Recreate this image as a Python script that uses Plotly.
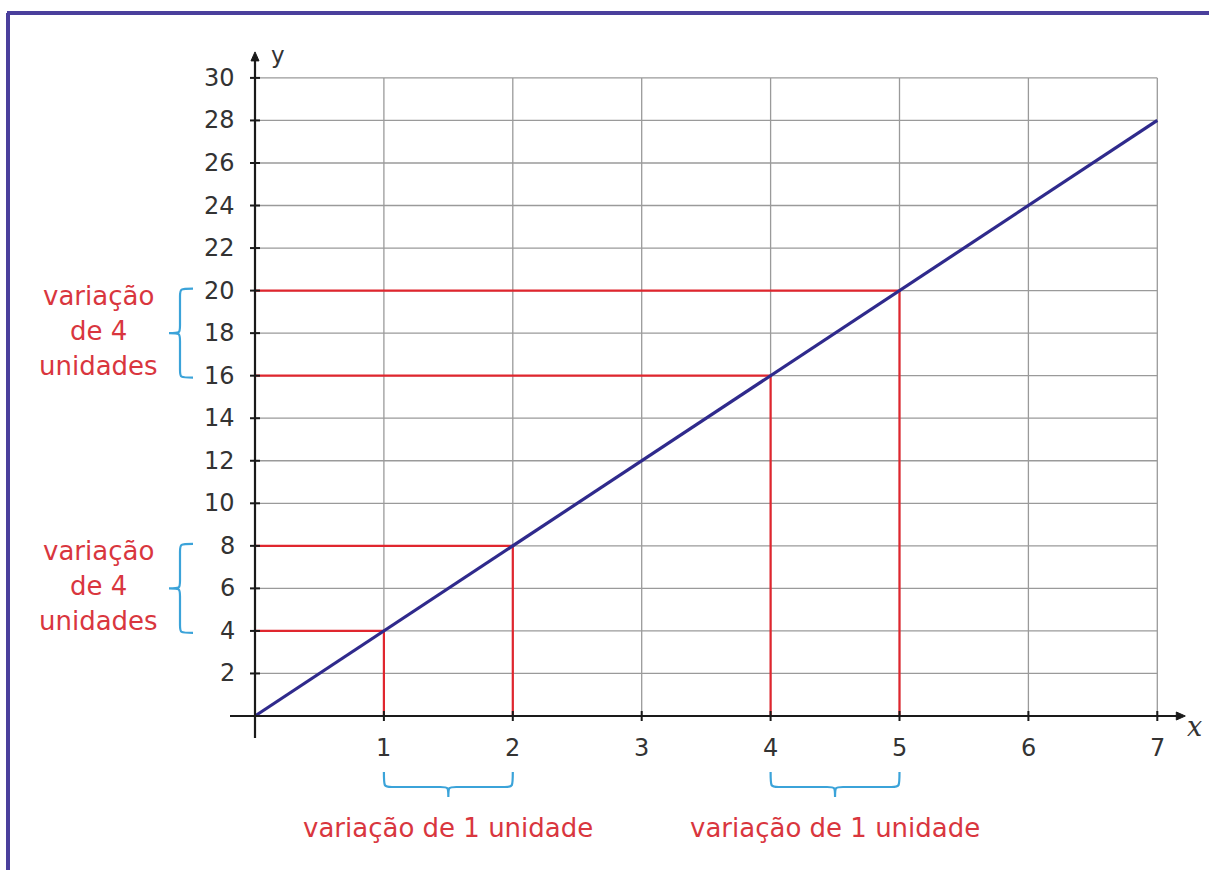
import plotly.graph_objects as go

# Function y = 4x sampled at integer x
x_vals = [0, 1, 2, 3, 4, 5, 6, 7]
y_vals = [0, 4, 8, 12, 16, 20, 24, 28]

# Points highlighted with red guide lines
guide_x = [1, 2, 4, 5]
guide_y = [4, 8, 16, 20]

x_ticks = [1, 2, 3, 4, 5, 6, 7]
y_ticks = [2, 4, 6, 8, 10, 12, 14, 16, 18, 20, 22, 24, 26, 28, 30]

# Brace groups: (start, end) in data units
y_braces = [(16, 20), (4, 8)]
x_braces = [(1, 2), (4, 5)]
y_brace_lines = ["variação", "de 4", "unidades"]
x_brace_text = "variação de 1 unidade"

W, H = 1209, 870
# pixel placement of the origin and scale
OX, OY = 255, 716
SX, SY = 128.9, 21.27
X0, X1 = -OX / SX, (W - OX) / SX
Y0, Y1 = -(H - OY) / SY, OY / SY


def dx(px):
    return px / SX


def dy(px):
    return px / SY


GRID = "#9a9a9a"
AXIS = "#1a1a1a"
RED = "#e0262e"
TXT_RED = "#d9363e"
NAVY = "#2f2a8c"
CYAN = "#3ba3d9"
FONT = "DejaVu Sans"

fig = go.Figure()
shapes = []
annotations = []

# grid
for xv in x_ticks:
    shapes.append(dict(type="line", x0=xv, x1=xv, y0=0, y1=max(y_ticks),
                       line=dict(color=GRID, width=1.3), layer="below"))
for yv in y_ticks:
    shapes.append(dict(type="line", x0=0, x1=max(x_ticks), y0=yv, y1=yv,
                       line=dict(color=GRID, width=1.3), layer="below"))

# red guide lines from each highlighted point to both axes
gx, gy = [], []
for xv, yv in zip(guide_x, guide_y):
    gx += [0, xv, xv, None]
    gy += [yv, yv, 0, None]
fig.add_trace(go.Scatter(x=gx, y=gy, mode="lines",
                         line=dict(color=RED, width=2.2), hoverinfo="skip"))

# axes
shapes.append(dict(type="line", x0=-dx(25), x1=max(x_ticks) + dx(22), y0=0, y1=0,
                   line=dict(color=AXIS, width=2.2)))
shapes.append(dict(type="line", x0=0, x1=0, y0=-dy(22), y1=max(y_ticks) + dy(20),
                   line=dict(color=AXIS, width=2.2)))
# arrow heads
xa = max(x_ticks) + dx(28)
shapes.append(dict(type="path",
                   path=f"M {xa},0 L {xa - dx(9)},{dy(4)} L {xa - dx(9)},{-dy(4)} Z",
                   fillcolor=AXIS, line=dict(color=AXIS, width=1)))
ya = max(y_ticks) + dy(26)
shapes.append(dict(type="path",
                   path=f"M 0,{ya} L {dx(4)},{ya - dy(9)} L {-dx(4)},{ya - dy(9)} Z",
                   fillcolor=AXIS, line=dict(color=AXIS, width=1)))
# tick marks
for xv in x_ticks:
    shapes.append(dict(type="line", x0=xv, x1=xv, y0=-dy(5), y1=dy(5),
                       line=dict(color=AXIS, width=2)))
for yv in y_ticks:
    shapes.append(dict(type="line", x0=-dx(5), x1=dx(5), y0=yv, y1=yv,
                       line=dict(color=AXIS, width=2)))

# the function line
fig.add_trace(go.Scatter(x=x_vals, y=y_vals, mode="lines",
                         line=dict(color=NAVY, width=3.2), hoverinfo="skip"))

# tick labels
for xv in x_ticks:
    annotations.append(dict(x=xv, y=-dy(32), text=str(xv), showarrow=False,
                            xanchor="center", yanchor="middle",
                            font=dict(family=FONT, size=24, color="#333333")))
for yv in y_ticks:
    annotations.append(dict(x=-dx(18), y=yv, text=str(yv), showarrow=False,
                            xanchor="right", yanchor="middle",
                            font=dict(family=FONT, size=24, color="#333333")))
annotations.append(dict(x=dx(23), y=max(y_ticks) + dy(23), text="y", showarrow=False,
                        xanchor="center", yanchor="middle",
                        font=dict(family=FONT, size=23, color="#333333")))
annotations.append(dict(x=max(x_ticks) + dx(37), y=-dy(10), text="<i>x</i>", showarrow=False,
                        xanchor="center", yanchor="middle",
                        font=dict(family="DejaVu Serif", size=27, color="#333333")))

# vertical braces (tip pointing left)
for ya_, yb_ in y_braces:
    yt = yb_ + dy(2)
    ybm = ya_ - dy(2)
    xe, xs, xt = -dx(62), -dx(75), -dx(86)
    ym = (yt + ybm) / 2
    d = dy(8)
    path = (f"M {xe},{yt} C {xs},{yt} {xs},{yt} {xs},{yt - d} "
            f"L {xs},{ym + d} C {xs},{ym} {xs},{ym} {xt},{ym} "
            f"C {xs},{ym} {xs},{ym} {xs},{ym - d} "
            f"L {xs},{ybm + d} C {xs},{ybm} {xs},{ybm} {xe},{ybm}")
    shapes.append(dict(type="path", path=path, line=dict(color=CYAN, width=2.2)))
    mid = (ya_ + yb_) / 2
    for k, line in enumerate(y_brace_lines):
        annotations.append(dict(x=-dx(157), y=mid + dy(35) * (1 - k) + dy(2), text=line,
                                showarrow=False, xanchor="center", yanchor="middle",
                                font=dict(family=FONT, size=26, color=TXT_RED)))

# horizontal braces (tip pointing down)
for xa_, xb_ in x_braces:
    yh, ysp, ytip = -dy(56), -dy(71), -dy(81)
    xm = (xa_ + xb_) / 2
    d = dx(8)
    path = (f"M {xa_},{yh} C {xa_},{ysp} {xa_},{ysp} {xa_ + d},{ysp} "
            f"L {xm - d},{ysp} C {xm},{ysp} {xm},{ysp} {xm},{ytip} "
            f"C {xm},{ysp} {xm},{ysp} {xm + d},{ysp} "
            f"L {xb_ - d},{ysp} C {xb_},{ysp} {xb_},{ysp} {xb_},{yh}")
    shapes.append(dict(type="path", path=path, line=dict(color=CYAN, width=2.2)))
    annotations.append(dict(x=xm, y=-dy(112), text=x_brace_text, showarrow=False,
                            xanchor="center", yanchor="middle",
                            font=dict(family=FONT, size=26, color=TXT_RED)))

# frame along the top and left edges
FRAME = "#4a3f9c"
shapes.append(dict(type="line", xref="paper", yref="paper",
                   x0=7 / W, x1=1, y0=1 - 13 / H, y1=1 - 13 / H,
                   line=dict(color=FRAME, width=4)))
shapes.append(dict(type="line", xref="paper", yref="paper",
                   x0=8 / W, x1=8 / W, y0=0, y1=1 - 13 / H,
                   line=dict(color=FRAME, width=4)))

fig.update_layout(
    width=W, height=H,
    margin=dict(l=0, r=0, t=0, b=0),
    paper_bgcolor="white", plot_bgcolor="white",
    showlegend=False,
    xaxis=dict(range=[X0, X1], visible=False, fixedrange=True),
    yaxis=dict(range=[Y0, Y1], visible=False, fixedrange=True),
    shapes=shapes,
    annotations=annotations,
)

fig.write_html("out.html")
